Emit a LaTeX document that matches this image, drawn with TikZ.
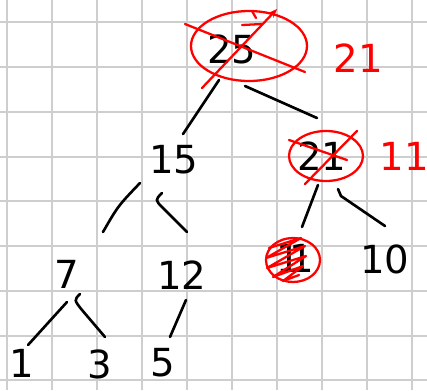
\documentclass[tikz,border=0pt]{standalone}
\usepackage{fontspec}
\setmainfont{DejaVu Sans}
\usetikzlibrary{positioning, arrows.meta, shapes.geometric, calc}
\definecolor{gridgray}{RGB}{206,206,206}

\begin{document}
\begin{tikzpicture}[
        x=0.02cm, y=-0.02cm,
        num/.style={font=\fontsize{22}{26}\selectfont, inner sep=0pt},
        rednum/.style={num, text=red},
        ring/.style={draw=red, line width=1.3pt, ellipse, inner sep=0pt},
        strike/.style={draw=red, line width=1.3pt, line cap=round, line join=round},
        edge/.style={line width=1.5pt, line cap=round, line join=round},
        gridline/.style={draw=gridgray, line width=1.1pt}
    ]

    \fill[white] (0,0) rectangle (427,390);
    \useasboundingbox (0,0) rectangle (427,390);

    % paper grid
    \foreach \gx in {7,52,...,412} \draw[gridline] (\gx,0) -- (\gx,390);
    \foreach \gy in {22,67,112,157,201,246,291,336,380} \draw[gridline] (0,\gy) -- (427,\gy);

    \node[num] (n25) at (232,49) {25};
    \node[num] (n15) at (174,160) {15};
    \node[num] (n21) at (322,156) {21};
    \node[num] (n7) at (67,274) {7};
    \node[num] (n12) at (182,275) {12};
    \node[num] (n11) at (295,258) {1\kern-0.3em1};
    \node[num] (n10) at (385,259) {10};
    \node[num] (n1) at (22,363) {1};
    \node[num] (n3) at (100,364) {3};
    \node[num] (n5) at (163,363) {5};

    \draw[edge] ($(n25)+(-13,31)$) -- ($(n15)+(9,-26)$);
    \draw[edge] ($(n25)+(13,37)$) -- ($(n21)+(-5,-38)$);
    \draw[edge] ($(n15)+(-34,23)$) .. controls ($(n15)+(-56,46)$) .. ($(n7)+(36,-42)$);
    \draw[edge] ($(n15)+(-12,33)$) .. controls ($(n15)+(-19,40)$) .. ($(n15)+(-11,48)$) -- ($(n12)+(5,-43)$);
    \draw[edge] ($(n7)+(0,28)$) -- ($(n1)+(6,-18)$);
    \draw[edge] ($(n7)+(13,20)$) .. controls ($(n7)+(7,26)$) .. ($(n7)+(15,36)$) -- ($(n3)+(5,-27)$);
    \draw[edge] ($(n12)+(4,25)$) -- ($(n5)+(7,-26)$);
    \draw[edge] ($(n21)+(-4,29)$) -- ($(n11)+(7,-31)$);
    \draw[edge] ($(n21)+(16,33)$) -- ($(n21)+(19,40)$) -- ($(n10)+(0,-33)$);

    % corrections in red
    \node[ring, minimum width=2.32cm, minimum height=1.4cm] (ring25) at (249,46) {};
    \draw[strike] ($(ring25)+(-64,-22)$) -- ($(ring25)+(56,26)$);
    \draw[strike, -{Stealth[length=5pt, width=4pt]}] ($(ring25)+(-47,42)$) -- ($(ring25)+(28,-37)$);
    \draw[strike] ($(ring25)+(-7,-21)$) -- ($(ring25)+(13,-22)$);
    \draw[strike] ($(ring25)+(3,-35)$) -- ($(ring25)+(7,-28)$);
    \node[rednum, right=0.5cm of ring25, yshift=-0.24cm] (l21) {21};

    \node[ring, minimum width=1.48cm, minimum height=1.0cm] (ring21) at (326,156) {};
    \draw[strike] ($(ring21)+(-37,-16)$) -- ($(ring21)+(21,4)$);
    \draw[strike] ($(ring21)+(-21,28)$) -- ($(ring21)+(31,-25)$);
    \node[rednum, right=0.3cm of ring21] (l11) {11};

    \node[ring, minimum width=1.08cm, minimum height=0.88cm] (ring11) at (293,260) {};
    \begin{scope}[shift={(ring11.center)}]
        \draw[strike] (-24,-12) -- (8,-22) -- (-27,-2) -- (12,-14) -- (-26,8) -- (13,-4)
            -- (-20,17) -- (10,6) -- (-10,21) -- (6,15);
    \end{scope}

\end{tikzpicture}
\end{document}
